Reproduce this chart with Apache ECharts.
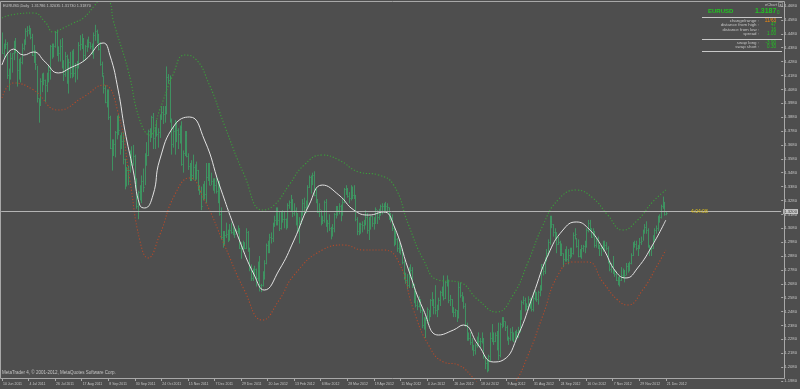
<!DOCTYPE html>
<html><head><meta charset="utf-8">
<script src="https://cdn.jsdelivr.net/npm/echarts@6/dist/echarts.min.js"></script>
<style>html,body{margin:0;padding:0;background:#4e4e4e;}#c{width:800px;height:389px;}</style>
</head><body><div id="c"></div>
<script>
// Date labels shown every 16 daily bars (bar 0 = 10 Jun 2011)
const dateLabels = ['10 Jun 2011','4 Jul 2011','26 Jul 2011','17 Aug 2011','8 Sep 2011','30 Sep 2011','24 Oct 2011','15 Nov 2011','7 Dec 2011','29 Dec 2011','20 Jan 2012','13 Feb 2012','6 Mar 2012','28 Mar 2012','19 Apr 2012','11 May 2012','4 Jun 2012','26 Jun 2012','18 Jul 2012','9 Aug 2012','31 Aug 2012','24 Sep 2012','16 Oct 2012','7 Nov 2012','29 Nov 2012','21 Dec 2012'];

// EURUSD daily bars, one line per week
const highs = [
1.4490,
1.4410,1.4440,1.4420,1.4230,1.4345,
1.4340,1.4430,1.4450,1.4360,1.4300,
1.4310,1.4410,1.4440,1.4520,1.4535,
1.4540,1.4520,1.4480,1.4400,1.4360,
1.4250,1.4015,1.4160,1.4195,1.4200,
1.4150,1.4200,1.4250,1.4400,1.4410,
1.4410,1.4500,1.4510,1.4390,1.4440,
1.4450,1.4290,1.4350,1.4330,1.4300,
1.4350,1.4360,1.4370,1.4270,1.4285,
1.4420,1.4470,1.4480,1.4450,1.4400,
1.4440,1.4460,1.4420,1.4410,1.4490,
1.4545,1.4510,1.4480,1.4420,1.4280,
1.4180,1.4110,1.4080,1.4080,1.3890,
1.3720,1.3720,1.3780,1.3890,1.3900,
1.3750,1.3770,1.3770,1.3580,1.3520,
1.3530,1.3640,1.3670,1.3680,1.3610,
1.3440,1.3350,1.3390,1.3460,1.3510,
1.3620,1.3700,1.3790,1.3800,1.3890,
1.3910,1.3810,1.3860,1.3800,1.3900,
1.3960,1.3960,1.3960,1.4245,1.4190,
1.4180,1.3870,1.3810,1.3860,1.3850,
1.3800,1.3820,1.3850,1.3640,1.3780,
1.3780,1.3620,1.3550,1.3570,1.3610,
1.3540,1.3560,1.3500,1.3390,1.3380,
1.3400,1.3420,1.3550,1.3550,1.3550,
1.3480,1.3440,1.3440,1.3450,1.3420,
1.3420,1.3230,1.3060,1.3060,1.3120,
1.3070,1.3110,1.3120,1.3090,1.3070,
1.3070,1.3100,1.3080,1.2980,1.2990,
1.2980,1.3080,1.3060,1.2940,1.2820,
1.2790,1.2810,1.2790,1.2840,1.2880,
1.2680,1.2770,1.2850,1.2970,1.2990,
1.3040,1.3050,1.3120,1.3170,1.3230,
1.3230,1.3200,1.3200,1.3210,1.3200,
1.3150,1.3260,1.3280,1.3320,1.3290,
1.3260,1.3230,1.3190,1.3160,1.3200,
1.3290,1.3300,1.3280,1.3390,1.3460,
1.3460,1.3480,1.3490,1.3370,1.3290,
1.3260,1.3210,1.3170,1.3280,1.3290,
1.3140,1.3180,1.3090,1.3110,1.3190,
1.3240,1.3240,1.3260,1.3250,1.3290,
1.3370,1.3390,1.3370,1.3340,1.3390,
1.3380,1.3390,1.3320,1.3160,1.3120,
1.3120,1.3130,1.3140,1.3210,1.3190,
1.3160,1.3170,1.3170,1.3160,1.3230,
1.3210,1.3220,1.3250,1.3260,1.3260,
1.3270,1.3260,1.3230,1.3190,1.3180,
1.3090,1.3060,1.3010,1.2980,1.2970,
1.2930,1.2850,1.2760,1.2750,1.2800,
1.2820,1.2800,1.2680,1.2630,1.2560,
1.2590,1.2570,1.2500,1.2440,1.2440,
1.2510,1.2490,1.2570,1.2620,1.2570,
1.2670,1.2530,1.2580,1.2630,1.2660,
1.2740,1.2700,1.2740,1.2710,1.2600,
1.2570,1.2510,1.2500,1.2490,1.2690,
1.2690,1.2620,1.2590,1.2540,1.2400,
1.2330,1.2330,1.2290,1.2240,1.2250,
1.2300,1.2330,1.2290,1.2330,1.2290,
1.2160,1.2140,1.2170,1.2330,1.2390,
1.2330,1.2330,1.2340,1.2400,1.2400,
1.2440,1.2440,1.2410,1.2380,1.2300,
1.2360,1.2370,1.2330,1.2340,1.2350,
1.2370,1.2490,1.2560,1.2590,1.2580,
1.2540,1.2590,1.2580,1.2570,1.2620,
1.2630,1.2620,1.2630,1.2670,1.2820,
1.2820,1.2870,1.2930,1.3000,1.3170,
1.3170,1.3110,1.3080,1.3050,1.3020,
1.2990,1.2970,1.2900,1.2930,1.2950,
1.2930,1.2940,1.2940,1.3050,1.3080,
1.3010,1.3000,1.2930,1.2960,1.2960,
1.2990,1.3080,1.3140,1.3140,1.3080,
1.3080,1.3060,1.3010,1.3020,1.2960,
1.2960,1.2990,1.2990,1.2980,1.2950,
1.2840,1.2830,1.2880,1.2780,1.2770,
1.2730,1.2740,1.2800,1.2790,1.2780,
1.2830,1.2830,1.2840,1.2900,1.2980,
1.2990,1.2990,1.2960,1.3010,1.3020,
1.3070,1.3110,1.3130,1.3080,1.2960,
1.2950,1.3030,1.3080,1.3100,1.3170,
1.3180,1.3250,1.3308,1.3270,1.3204
];
const lows = [
1.4335,
1.4300,1.4370,1.4155,1.4070,1.4150,
1.4200,1.4290,1.4340,1.4100,1.4150,
1.4130,1.4260,1.4360,1.4400,1.4460,
1.4475,1.4440,1.4320,1.4270,1.4220,
1.3985,1.3840,1.3960,1.4060,1.4110,
1.3990,1.4060,1.4130,1.4150,1.4300,
1.4310,1.4380,1.4320,1.4280,1.4280,
1.4230,1.4140,1.4170,1.4120,1.4050,
1.4160,1.4160,1.4170,1.4130,1.4150,
1.4230,1.4360,1.4370,1.4280,1.4290,
1.4350,1.4380,1.4370,1.4330,1.4300,
1.4430,1.4410,1.4360,1.4250,1.4170,
1.4050,1.3980,1.3950,1.3860,1.3650,
1.3495,1.3600,1.3590,1.3720,1.3750,
1.3610,1.3650,1.3540,1.3360,1.3380,
1.3390,1.3480,1.3530,1.3530,1.3370,
1.3220,1.3145,1.3280,1.3260,1.3340,
1.3390,1.3530,1.3600,1.3700,1.3730,
1.3650,1.3650,1.3740,1.3660,1.3730,
1.3860,1.3830,1.3840,1.3900,1.4120,
1.3840,1.3610,1.3660,1.3610,1.3700,
1.3650,1.3690,1.3530,1.3480,1.3600,
1.3590,1.3500,1.3420,1.3420,1.3430,
1.3420,1.3430,1.3350,1.3320,1.3210,
1.3280,1.3290,1.3260,1.3420,1.3390,
1.3390,1.3350,1.3330,1.3330,1.3260,
1.3170,1.3000,1.2940,1.2960,1.3010,
1.2980,1.2990,1.3040,1.3030,1.3010,
1.3040,1.3040,1.2930,1.2860,1.2910,
1.2930,1.2930,1.2910,1.2770,1.2700,
1.2700,1.2740,1.2660,1.2700,1.2625,
1.2620,1.2660,1.2710,1.2820,1.2900,
1.2900,1.2970,1.2980,1.3090,1.3100,
1.3100,1.3060,1.3070,1.3120,1.3080,
1.3070,1.3080,1.3220,1.3200,1.3160,
1.3170,1.3100,1.3060,1.2970,1.3110,
1.3170,1.3180,1.3190,1.3230,1.3370,
1.3330,1.3390,1.3310,1.3260,1.3190,
1.3160,1.3100,1.3110,1.3120,1.3090,
1.3050,1.3060,1.3000,1.3020,1.3050,
1.3150,1.3170,1.3180,1.3130,1.3170,
1.3260,1.3320,1.3300,1.3260,1.3280,
1.3290,1.3290,1.3130,1.3030,1.3030,
1.3040,1.3050,1.3070,1.3100,1.3040,
1.2995,1.3070,1.3090,1.3070,1.3110,
1.3110,1.3140,1.3170,1.3180,1.3190,
1.3200,1.3190,1.3140,1.3120,1.3060,
1.2950,1.2960,1.2910,1.2900,1.2890,
1.2820,1.2710,1.2680,1.2640,1.2650,
1.2720,1.2650,1.2540,1.2510,1.2490,
1.2510,1.2470,1.2360,1.2350,1.2290,
1.2390,1.2410,1.2440,1.2520,1.2460,
1.2460,1.2440,1.2490,1.2520,1.2590,
1.2560,1.2570,1.2660,1.2540,1.2520,
1.2470,1.2440,1.2440,1.2405,1.2430,
1.2580,1.2550,1.2500,1.2370,1.2270,
1.2270,1.2240,1.2200,1.2160,1.2170,
1.2220,1.2230,1.2220,1.2250,1.2140,
1.2065,1.2042,1.2050,1.2120,1.2260,
1.2240,1.2260,1.2200,1.2130,1.2150,
1.2360,1.2370,1.2340,1.2270,1.2240,
1.2270,1.2270,1.2260,1.2260,1.2290,
1.2290,1.2330,1.2420,1.2530,1.2480,
1.2490,1.2490,1.2500,1.2480,1.2480,
1.2560,1.2550,1.2530,1.2590,1.2630,
1.2740,1.2750,1.2840,1.2880,1.2960,
1.3080,1.3020,1.3000,1.2900,1.2960,
1.2880,1.2880,1.2800,1.2840,1.2840,
1.2820,1.2860,1.2870,1.2890,1.3000,
1.2940,1.2870,1.2870,1.2860,1.2910,
1.2900,1.2940,1.3050,1.3060,1.3010,
1.3020,1.2940,1.2940,1.2930,1.2880,
1.2880,1.2910,1.2920,1.2920,1.2830,
1.2770,1.2760,1.2750,1.2730,1.2700,
1.2670,1.2660,1.2700,1.2720,1.2690,
1.2740,1.2760,1.2770,1.2820,1.2880,
1.2940,1.2920,1.2880,1.2930,1.2960,
1.2990,1.3040,1.3040,1.2940,1.2880,
1.2880,1.2930,1.2990,1.3040,1.3060,
1.3120,1.3150,1.3220,1.3170,1.3173
];
const closes = [
1.4345,
1.4390,1.4410,1.4185,1.4160,1.4305,
1.4340,1.4400,1.4360,1.4220,1.4195,
1.4280,1.4380,1.4430,1.4500,1.4505,
1.4520,1.4460,1.4330,1.4360,1.4260,
1.4015,1.3990,1.4140,1.4180,1.4150,
1.4110,1.4155,1.4220,1.4390,1.4380,
1.4390,1.4490,1.4360,1.4340,1.4395,
1.4245,1.4190,1.4320,1.4140,1.4280,
1.4200,1.4340,1.4195,1.4240,1.4240,
1.4400,1.4410,1.4430,1.4330,1.4390,
1.4390,1.4420,1.4390,1.4390,1.4470,
1.4500,1.4440,1.4370,1.4260,1.4200,
1.4090,1.3990,1.4070,1.3880,1.3655,
1.3660,1.3690,1.3770,1.3880,1.3790,
1.3690,1.3710,1.3580,1.3460,1.3500,
1.3500,1.3590,1.3550,1.3600,1.3390,
1.3240,1.3340,1.3350,1.3420,1.3380,
1.3600,1.3610,1.3780,1.3760,1.3880,
1.3730,1.3770,1.3760,1.3770,1.3890,
1.3920,1.3900,1.3910,1.4170,1.4150,
1.3860,1.3690,1.3780,1.3760,1.3790,
1.3760,1.3810,1.3540,1.3620,1.3750,
1.3600,1.3530,1.3470,1.3460,1.3520,
1.3480,1.3500,1.3360,1.3340,1.3240,
1.3320,1.3330,1.3450,1.3460,1.3390,
1.3420,1.3390,1.3390,1.3350,1.3380,
1.3180,1.3020,1.2990,1.3030,1.3040,
1.3000,1.3070,1.3050,1.3050,1.3040,
1.3060,1.3080,1.2940,1.2950,1.2960,
1.2940,1.3050,1.2930,1.2790,1.2720,
1.2760,1.2790,1.2720,1.2810,1.2670,
1.2670,1.2740,1.2830,1.2960,1.2930,
1.3020,1.3010,1.3110,1.3140,1.3210,
1.3140,1.3080,1.3170,1.3150,1.3150,
1.3100,1.3250,1.3270,1.3280,1.3190,
1.3210,1.3120,1.3060,1.3130,1.3150,
1.3260,1.3230,1.3240,1.3380,1.3450,
1.3420,1.3460,1.3320,1.3290,1.3200,
1.3220,1.3130,1.3140,1.3270,1.3120,
1.3120,1.3080,1.3060,1.3080,1.3180,
1.3220,1.3210,1.3240,1.3190,1.3270,
1.3360,1.3360,1.3310,1.3300,1.3340,
1.3320,1.3320,1.3150,1.3060,1.3080,
1.3110,1.3100,1.3120,1.3160,1.3070,
1.3150,1.3170,1.3120,1.3140,1.3220,
1.3160,1.3200,1.3240,1.3240,1.3240,
1.3240,1.3230,1.3160,1.3160,1.3080,
1.3050,1.3000,1.2940,1.2950,1.2920,
1.2840,1.2720,1.2710,1.2670,1.2780,
1.2780,1.2660,1.2580,1.2530,1.2520,
1.2560,1.2490,1.2380,1.2370,1.2420,
1.2500,1.2450,1.2560,1.2560,1.2510,
1.2490,1.2500,1.2560,1.2620,1.2640,
1.2580,1.2690,1.2700,1.2560,1.2570,
1.2510,1.2480,1.2490,1.2440,1.2660,
1.2600,1.2580,1.2520,1.2380,1.2290,
1.2290,1.2260,1.2210,1.2200,1.2240,
1.2290,1.2270,1.2270,1.2280,1.2160,
1.2110,1.2060,1.2160,1.2290,1.2320,
1.2270,1.2310,1.2220,1.2170,1.2390,
1.2400,1.2410,1.2370,1.2290,1.2290,
1.2330,1.2280,1.2270,1.2320,1.2330,
1.2350,1.2470,1.2550,1.2560,1.2510,
1.2520,1.2570,1.2510,1.2500,1.2580,
1.2610,1.2570,1.2620,1.2640,1.2820,
1.2770,1.2860,1.2900,1.2980,1.3130,
1.3110,1.3050,1.3050,1.2970,1.2980,
1.2930,1.2900,1.2860,1.2910,1.2860,
1.2890,1.2890,1.2900,1.3030,1.3040,
1.2950,1.2880,1.2880,1.2940,1.2950,
1.2950,1.3070,1.3120,1.3080,1.3020,
1.3060,1.2960,1.2990,1.2940,1.2940,
1.2940,1.2970,1.2960,1.2940,1.2830,
1.2790,1.2810,1.2770,1.2750,1.2710,
1.2710,1.2710,1.2740,1.2770,1.2740,
1.2810,1.2810,1.2830,1.2890,1.2970,
1.2970,1.2940,1.2950,1.2980,1.2990,
1.3060,1.3090,1.3070,1.2950,1.2930,
1.2940,1.3010,1.3070,1.3080,1.3160,
1.3160,1.3240,1.3240,1.3179,1.3187
];

// Centered moving average and its bands: [bar index, price]
const midLine = [[0,1.4255],[7,1.4370],[13,1.4327],[19,1.4349],[26,1.4277],[34,1.4198],[41,1.4234],[50,1.4291],[61,1.4414],[65,1.4327],[70,1.4075],[74,1.3787],[79,1.3499],[83,1.3247],[86,1.3226],[91,1.3319],[95,1.3571],[104,1.3823],[113,1.3881],[122,1.3715],[131,1.3391],[143,1.2995],[152,1.2743],[158,1.2635],[167,1.2779],[176,1.2995],[185,1.3247],[193,1.3391],[203,1.3319],[212,1.3211],[221,1.3175],[230,1.3197],[236,1.3103],[245,1.2779],[254,1.2491],[263,1.2311],[272,1.2347],[278,1.2383],[287,1.2239],[296,1.2117],[302,1.2131],[311,1.2311],[320,1.2599],[329,1.2887],[338,1.3067],[346,1.3125],[353,1.3082],[362,1.2938],[370,1.2765],[376,1.2722],[383,1.2794],[392,1.2959],[400,1.3139]];
const upperBand = [[0,1.4594],[5,1.4615],[19,1.4630],[26,1.4565],[31,1.4493],[37,1.4522],[43,1.4558],[49,1.4594],[56,1.4687],[61,1.4759],[65,1.4709],[67,1.4579],[76,1.4219],[83,1.3859],[89,1.3751],[95,1.3931],[103,1.4183],[110,1.4327],[116,1.4306],[125,1.4111],[134,1.3823],[146,1.3463],[157,1.3211],[164,1.3247],[173,1.3391],[182,1.3535],[193,1.3607],[203,1.3571],[215,1.3485],[227,1.3463],[236,1.3391],[245,1.3103],[254,1.2851],[263,1.2707],[275,1.2693],[287,1.2563],[298,1.2477],[308,1.2599],[317,1.2837],[326,1.3103],[335,1.3283],[346,1.3355],[356,1.3298],[365,1.3175],[374,1.3067],[383,1.3139],[392,1.3269],[400,1.3355]];
const lowerBand = [[0,1.4018],[7,1.4126],[19,1.4075],[34,1.3931],[49,1.4025],[61,1.4111],[70,1.3910],[77,1.3427],[83,1.2995],[88,1.2866],[95,1.3031],[104,1.3319],[113,1.3442],[122,1.3283],[134,1.2959],[146,1.2635],[157,1.2419],[167,1.2563],[176,1.2743],[193,1.2923],[206,1.2959],[218,1.2923],[230,1.2923],[239,1.2837],[248,1.2491],[257,1.2239],[266,1.2117],[275,1.2095],[284,1.2002],[293,1.1879],[299,1.1858],[308,1.1951],[317,1.2167],[326,1.2455],[335,1.2743],[344,1.2837],[353,1.2837],[362,1.2693],[371,1.2563],[377,1.2527],[386,1.2635],[395,1.2815],[400,1.2923]];

const yMin = 1.1980, yStep = 0.0100;
const totalSlots = 470;

if (highs.length !== 401 || lows.length !== 401 || closes.length !== 401) {
  throw new Error('lengths ' + highs.length + ' ' + lows.length + ' ' + closes.length);
}

const categories = [];
for (let i = 0; i < totalSlots; i++) {
  categories.push(i % 16 === 0 && dateLabels[i / 16] ? dateLabels[i / 16] : '');
}
const barData = highs.map((h, i) => [i, h, lows[i], closes[i]]);
const lastClose = closes[closes.length - 1];

const BAR = '#3d9a63';
const TXT = '#c4c4c4';
const FONT = 'Liberation Sans';
const showIdx = (idx, val) => val !== '';

const chart = echarts.init(document.getElementById('c'), null, {renderer: 'canvas'});
chart.setOption({
  backgroundColor: '#4e4e4e',
  animation: false,
  textStyle: {fontFamily: FONT},
  grid: {left: 0, right: 16, top: 2, bottom: 8},
  xAxis: {
    type: 'category', data: categories, boundaryGap: true, offset: -3,
    axisLine: {show: false},
    axisTick: {show: true, alignWithLabel: true, length: 3, interval: showIdx, lineStyle: {color: '#a8a8a8'}},
    axisLabel: {interval: showIdx, color: TXT, fontSize: 3.5, fontFamily: FONT, align: 'left', margin: 4, padding: [0,0,0,1]},
    splitLine: {show: false}
  },
  yAxis: {
    type: 'value', position: 'right', min: yMin, max: 1.4709, interval: yStep,
    axisLine: {show: false},
    axisTick: {show: true, length: 2, lineStyle: {color: '#a8a8a8'}},
    axisLabel: {color: TXT, fontSize: 4.2, fontFamily: FONT, margin: 3, showMaxLabel: false, formatter: v => v.toFixed(4)},
    splitLine: {show: false}
  },
  series: [
    {
      type: 'custom', name: 'bars', data: barData, encode: {x: 0, y: [1, 2, 3]}, clip: true,
      renderItem: (params, api) => {
        const i = api.value(0);
        const hi = api.coord([i, api.value(1)]);
        const lo = api.coord([i, api.value(2)]);
        const cl = api.coord([i, api.value(3)]);
        const x = Math.round(hi[0]) + 0.5;
        const cy = Math.round(cl[1]) + 0.5;
        return {type: 'group', children: [
          {type: 'line', shape: {x1: x, y1: hi[1], x2: x, y2: lo[1]}, style: {stroke: BAR, lineWidth: 0.9}},
          {type: 'line', shape: {x1: x, y1: cy, x2: x + 1.2, y2: cy}, style: {stroke: BAR, lineWidth: 0.8}}
        ]};
      }
    },
    {
      type: 'line', name: 'upper', data: upperBand, smooth: 0.5, symbol: 'none', clip: true,
      lineStyle: {color: '#3aa03a', width: 1.1, type: [1.2, 1.9]}
    },
    {
      type: 'line', name: 'lower', data: lowerBand, smooth: 0.5, symbol: 'none', clip: true,
      lineStyle: {color: '#b34a2a', width: 1.1, type: [1.2, 1.9]}
    },
    {
      type: 'line', name: 'mid', data: midLine, smooth: 0.5, symbol: 'none', clip: true,
      lineStyle: {color: '#e2e2e2', width: 1},
      markLine: {
        silent: true, symbol: 'none', animation: false,
        lineStyle: {color: '#b4b4b4', width: 1, type: 'solid'},
        label: {position: 'end', distance: 2, formatter: p => p.value.toFixed(4), color: '#3a3a3a', backgroundColor: '#c8c8c8', fontSize: 4.2, fontFamily: FONT, padding: [1, 1, 0, 1]},
        data: [{yAxis: lastClose}]
      }
    }
  ],
  graphic: [
    {type: 'rect', silent: true, shape: {x: 0.5, y: 1.5, width: 784, height: 377}, style: {fill: 'none', stroke: '#a8a8a8', lineWidth: 1}, z: 100},
    {type: 'text', x: 3, y: 6, style: {text: 'EURUSD,Daily  1.31786 1.32035 1.31730 1.31870', fill: TXT, font: '3.9px ' + FONT, verticalAlign: 'middle'}, z: 100},
    {type: 'text', x: 2, y: 373, style: {text: 'MetaTrader 4, © 2001-2012, MetaQuotes Software Corp.', fill: TXT, font: '4.5px ' + FONT, verticalAlign: 'middle'}, z: 100},
    {type: 'text', x: 691, y: 212, style: {text: '4:04:08', fill: '#e3c51a', font: '5px ' + FONT, verticalAlign: 'middle'}, z: 100},
    // info panel
    {type: 'text', x: 765, y: 5, style: {text: 'eChart', fill: TXT, font: '4px ' + FONT, verticalAlign: 'middle'}, z: 100},
    {type: 'rect', shape: {x: 778.5, y: 2.5, width: 4, height: 4}, style: {fill: 'none', stroke: '#aaa', lineWidth: 0.6}, z: 100},
    {type: 'text', x: 780.5, y: 4.6, style: {text: 'x', fill: '#ddd', font: '4px ' + FONT, align: 'center', verticalAlign: 'middle'}, z: 100},
    {type: 'text', x: 708, y: 11.5, style: {text: 'EURUSD', fill: '#22c422', font: 'bold 6px ' + FONT, verticalAlign: 'middle'}, z: 100},
    {type: 'text', x: 755, y: 11.5, style: {text: '1.3187', fill: '#22c422', font: 'bold 7px ' + FONT, verticalAlign: 'middle'}, z: 100},
    {type: 'text', x: 777, y: 12.5, style: {text: '0', fill: '#22c422', font: '4.5px ' + FONT, verticalAlign: 'middle'}, z: 100},
    {type: 'line', shape: {x1: 702, y1: 17.5, x2: 782, y2: 17.5}, style: {stroke: '#c8c8c8', lineWidth: 1}, z: 100},
    {type: 'text', x: 759, y: 20.5, style: {text: 'change/range :', fill: TXT, font: '4.4px ' + FONT, align: 'right', verticalAlign: 'middle'}, z: 100},
    {type: 'text', x: 759, y: 25, style: {text: 'distance from high :', fill: TXT, font: '4.4px ' + FONT, align: 'right', verticalAlign: 'middle'}, z: 100},
    {type: 'text', x: 759, y: 29.5, style: {text: 'distance from low :', fill: TXT, font: '4.4px ' + FONT, align: 'right', verticalAlign: 'middle'}, z: 100},
    {type: 'text', x: 759, y: 34, style: {text: 'spread :', fill: TXT, font: '4.4px ' + FONT, align: 'right', verticalAlign: 'middle'}, z: 100},
    {type: 'text', x: 776, y: 20.5, style: {text: '11/63', fill: '#f08a10', font: '4.6px ' + FONT, align: 'right', verticalAlign: 'middle'}, z: 100},
    {type: 'text', x: 776, y: 25, style: {text: '47', fill: '#22c422', font: '4.6px ' + FONT, align: 'right', verticalAlign: 'middle'}, z: 100},
    {type: 'text', x: 776, y: 29.5, style: {text: '16', fill: '#22c422', font: '4.6px ' + FONT, align: 'right', verticalAlign: 'middle'}, z: 100},
    {type: 'text', x: 776, y: 34, style: {text: '1.00', fill: '#22c422', font: '4.6px ' + FONT, align: 'right', verticalAlign: 'middle'}, z: 100},
    {type: 'line', shape: {x1: 702, y1: 39.5, x2: 782, y2: 39.5}, style: {stroke: '#c8c8c8', lineWidth: 1}, z: 100},
    {type: 'text', x: 759, y: 43, style: {text: 'swap long :', fill: TXT, font: '4.4px ' + FONT, align: 'right', verticalAlign: 'middle'}, z: 100},
    {type: 'text', x: 759, y: 47, style: {text: 'swap short :', fill: TXT, font: '4.4px ' + FONT, align: 'right', verticalAlign: 'middle'}, z: 100},
    {type: 'text', x: 776, y: 43, style: {text: '-3.90', fill: '#22c422', font: '4.6px ' + FONT, align: 'right', verticalAlign: 'middle'}, z: 100},
    {type: 'text', x: 776, y: 47, style: {text: '0.30', fill: '#22c422', font: '4.6px ' + FONT, align: 'right', verticalAlign: 'middle'}, z: 100},
    {type: 'line', shape: {x1: 702, y1: 51.5, x2: 782, y2: 51.5}, style: {stroke: '#c8c8c8', lineWidth: 1}, z: 100}
  ]
});
</script>
</body></html>
